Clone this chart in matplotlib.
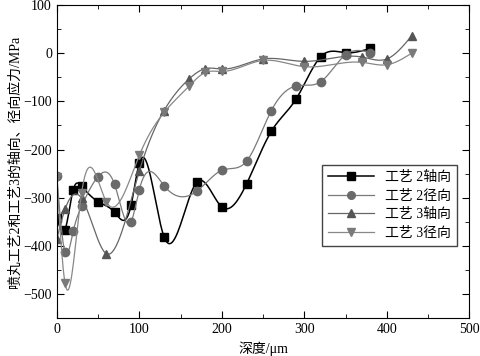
import numpy as np
import matplotlib
matplotlib.use('Agg')
import matplotlib.pyplot as plt
from matplotlib.ticker import MultipleLocator

plt.rcParams['font.family'] = ['Liberation Serif', 'Noto Sans CJK SC']
plt.rcParams['axes.unicode_minus'] = True

# 工艺2 depths / stresses
x2 = [0, 10, 20, 30, 50, 70, 90, 100, 130, 170, 200, 230, 260, 290, 320, 350, 380]
axial2 = [-341, -366, -283, -276, -308, -330, -316, -228, -381, -267, -319, -271,
          -162, -95, -7, 1, 10]
radial2 = [-254, -413, -369, -318, -256, -272, -350, -283, -275, -286, -243, -224,
           -119, -68, -59, -3, 1]

# 工艺3 depths / stresses
x3 = [0, 10, 30, 60, 100, 130, 160, 180, 200, 250, 300, 370, 400, 430]
axial3 = [-386, -324, -301, -416, -245, -119, -54, -32, -33, -12, -17, -8, -12, 36]
radial3 = [-256, -477, -291, -308, -212, -123, -69, -40, -38, -15, -28, -19, -24, 0]

labels = ['工艺 2轴向', '工艺 2径向', '工艺 3轴向', '工艺 3径向']


def spline(x, y, n=400):
    # natural cubic spline, like the Origin "spline" connect
    x = np.asarray(x, float)
    y = np.asarray(y, float)
    m = len(x)
    h = np.diff(x)
    A = np.zeros((m, m))
    b = np.zeros(m)
    A[0, 0] = A[-1, -1] = 1
    for i in range(1, m - 1):
        A[i, i - 1] = h[i - 1]
        A[i, i] = 2 * (h[i - 1] + h[i])
        A[i, i + 1] = h[i]
        b[i] = 6 * ((y[i + 1] - y[i]) / h[i] - (y[i] - y[i - 1]) / h[i - 1])
    M = np.linalg.solve(A, b)
    xs = np.linspace(x[0], x[-1], n)
    k = np.clip(np.searchsorted(x, xs) - 1, 0, m - 2)
    t1 = x[k + 1] - xs
    t0 = xs - x[k]
    hk = h[k]
    ys = (M[k] * t1 ** 3 + M[k + 1] * t0 ** 3) / (6 * hk) \
        + (y[k] / hk - M[k] * hk / 6) * t1 + (y[k + 1] / hk - M[k + 1] * hk / 6) * t0
    return xs, ys


fig = plt.figure(figsize=(4.81, 3.56), dpi=100)
ax = fig.add_axes([0.118, 0.106, 0.858, 0.880])

series = [
    (x2, axial2, 's', 'black', 'black', 1.1),
    (x2, radial2, 'o', '#6a6a6a', '#7a7a7a', 0.9),
    (x3, axial3, '^', '#555555', '#666666', 0.9),
    (x3, radial3, 'v', '#7a7a7a', '#888888', 0.9),
]
for (xx, yy, mk, mc, lc, lw), lab in zip(series, labels):
    xs, ys = spline(xx, yy)
    ax.plot(xs, ys, color=lc, lw=lw)
    ax.plot(xx, yy, ls='none', marker=mk, ms=6, color=mc, mec=mc)
    ax.plot([], [], color=lc, lw=lw, marker=mk, ms=5.5, mfc=mc, mec=mc, label=lab)

ax.set_xlim(0, 500)
ax.set_ylim(-550, 100)
ax.xaxis.set_major_locator(MultipleLocator(100))
ax.xaxis.set_minor_locator(MultipleLocator(50))
ax.yaxis.set_major_locator(MultipleLocator(100))
ax.yaxis.set_minor_locator(MultipleLocator(50))
ax.tick_params(which='both', direction='in', top=True, right=True, labelsize=10)
ax.tick_params(which='major', length=5)
ax.tick_params(which='minor', length=3)

ax.set_xlabel('深度/μm', fontsize=10, labelpad=4)
ax.set_ylabel('喷丸工艺2和工艺3的轴向、径向应力/MPa', fontsize=10, labelpad=1)

ax.legend(loc='upper left', bbox_to_anchor=(0.642, 0.49), borderaxespad=0,
          fontsize=10, frameon=True, fancybox=False, edgecolor='#444444',
          framealpha=1, handlelength=3.3, borderpad=0.45, labelspacing=0.4)

fig.savefig('out.png', dpi=100)
